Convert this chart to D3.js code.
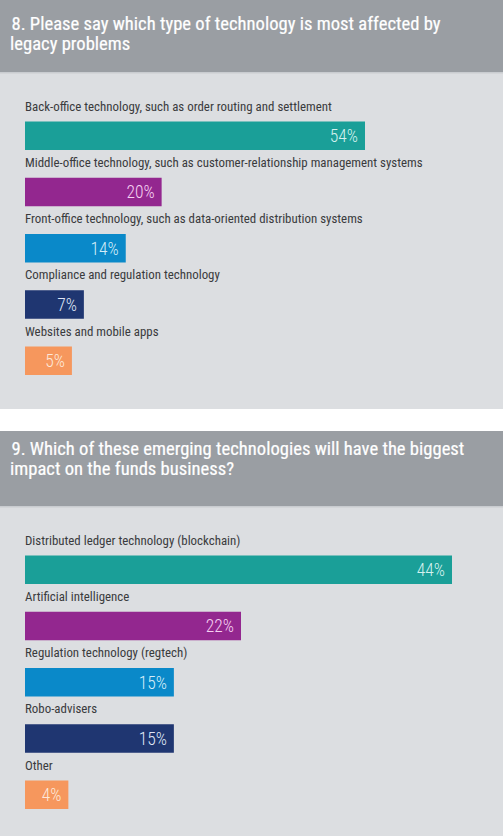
<!DOCTYPE html>
<html>
<head>
<meta charset="utf-8">
<script src="https://cdn.jsdelivr.net/npm/d3@7"></script>
<style>
  html, body { margin: 0; padding: 0; background: #ffffff; }
  svg { display: block; }
</style>
</head>
<body>
<svg id="chart" width="503" height="836"></svg>
<script>
// ---- data ----
const title1 = ["8. Please say which type of technology is most affected by", "legacy problems"];
const categories1 = [
  "Back-office technology, such as order routing and settlement",
  "Middle-office technology, such as customer-relationship management systems",
  "Front-office technology, such as data-oriented distribution systems",
  "Compliance and regulation technology",
  "Websites and mobile apps"
];
const values1 = [54, 20, 14, 7, 5];

const title2 = ["9. Which of these emerging technologies will have the biggest", "impact on the funds business?"];
const categories2 = [
  "Distributed ledger technology (blockchain)",
  "Artificial intelligence",
  "Regulation technology (regtech)",
  "Robo-advisers",
  "Other"
];
const values2 = [44, 22, 15, 15, 4];

const barColors = ["#1a9f98", "#93278f", "#0a89c9", "#1f3671", "#f6975d"];
const labelColors = ["#d4f1ee", "#f6d2f2", "#d3ecf8", "#dfe5f5", "#fde8da"];

// ---- drawing ----
const svg = d3.select("#chart");
const W = 503;
const FONT = "'Roboto Condensed', 'Liberation Sans Narrow', sans-serif";

function panel(cfg) {
  const g = svg.append("g");
  // header
  g.append("rect").attr("x", 0).attr("y", cfg.top).attr("width", W).attr("height", cfg.headerH)
    .attr("fill", "#9a9ea3");
  g.append("rect").attr("x", 0).attr("y", cfg.top + cfg.headerH).attr("width", W).attr("height", cfg.bodyH)
    .attr("fill", "#dcdee1");
  g.append("rect").attr("x", 0).attr("y", cfg.top + cfg.headerH).attr("width", W).attr("height", 1.5)
    .attr("fill", "#c9ccd0");
  const t = g.append("text")
    .attr("fill", "#ffffff")
    .attr("stroke", "#ffffff")
    .attr("stroke-width", 0.2)
    .attr("font-family", FONT)
    .attr("font-size", 18.6)
    .attr("font-weight", 400);
  cfg.title.forEach((line, i) => {
    t.append("tspan").attr("x", i === 0 ? 11.5 : 10).attr("y", cfg.top + cfg.titleY + i * 20).text(line);
  });

  const x = d3.scaleLinear().domain([0, d3.max(cfg.values)]).range([cfg.x0 + cfg.offset, cfg.xMax]);
  const y = d3.scaleBand().domain(d3.range(cfg.values.length))
    .range([cfg.barTop, cfg.barTop + cfg.step * cfg.values.length]).paddingInner(0).paddingOuter(0);

  const rows = g.selectAll("g.row").data(cfg.values).join("g").attr("class", "row");
  rows.append("text")
    .attr("x", cfg.x0)
    .attr("y", (d, i) => y(i) - 11)
    .attr("fill", "#3a3b3d")
    .attr("font-family", FONT)
    .attr("font-size", 12.9)
    .text((d, i) => cfg.categories[i]);
  rows.append("rect")
    .attr("x", cfg.x0)
    .attr("y", (d, i) => y(i))
    .attr("width", d => x(d) - cfg.x0)
    .attr("height", 28.5)
    .attr("fill", (d, i) => barColors[i]);
  rows.append("text")
    .attr("x", d => x(d) - 7)
    .attr("y", (d, i) => y(i) + 20.5)
    .attr("text-anchor", "end")
    .attr("fill", (d, i) => labelColors[i])
    .attr("font-family", FONT)
    .attr("font-weight", 300)
    .attr("font-size", 17.5)
    .text(d => d + "%");
}

panel({
  top: 0, headerH: 72, bodyH: 337, title: title1, titleY: 30,
  categories: categories1, values: values1,
  x0: 25, offset: 17, xMax: 365, barTop: 121.5, step: 56.25
});

// white gap between panels
panel({
  top: 431, headerH: 75, bodyH: 330, title: title2, titleY: 24,
  categories: categories2, values: values2,
  x0: 25, offset: 5, xMax: 452, barTop: 555.5, step: 56.25
});
</script>
</body>
</html>
